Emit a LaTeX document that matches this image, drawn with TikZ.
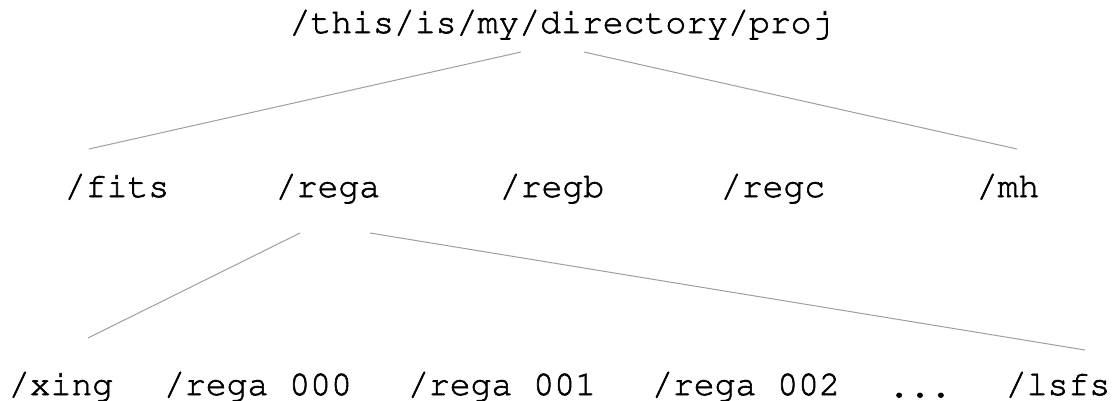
\documentclass[tikz,border=0pt]{standalone}
\usepackage[T1]{fontenc}
\usetikzlibrary{calc}
\newcommand\heavytxt[1]{\special{pdf:literal 2 Tr 0.6 w}#1\special{pdf:literal 0 Tr}}
\tikzset{
  dirlabel/.style={anchor=base, inner sep=0pt, font=\fontfamily{pcr}\fontseries{m}\fontsize{34.8}{40}\selectfont, text=black},
  branch/.style={draw=black!38, line width=1pt}
}
\begin{document}
\begin{tikzpicture}[x=1pt, y=-1pt]
\useasboundingbox (0,0) rectangle (1112,400);
\node[dirlabel] (top) at (561,33) {\heavytxt{/this/is/my/directory/proj}};
\node[dirlabel] (fits) at (117,197) {\heavytxt{/fits}};
\node[dirlabel] (rega) at (328,197) {\heavytxt{/rega}};
\node[dirlabel] (regb) at (552,197) {\heavytxt{/regb}};
\node[dirlabel] (regc) at (773,197) {\heavytxt{/regc}};
\node[dirlabel] (mh) at (1008,197) {\heavytxt{/mh}};
\node[dirlabel] (xing) at (61,395) {\heavytxt{/xing}};
\node[dirlabel] (r000) at (258,395) {\heavytxt{/rega 000}};
\node[dirlabel] (r001) at (502,395) {\heavytxt{/rega 001}};
\node[dirlabel] (r002) at (746,395) {\heavytxt{/rega 002}};
\node[dirlabel] (dots) at (920,397) {\heavytxt{...}};
\node[dirlabel] (lsfs) at (1058,395) {\heavytxt{/lsfs}};
\draw[branch] ($(top.base)+(-40,19)$) -- ($(fits.base)+(-28,-48)$);
\draw[branch] ($(top.base)+(23,19)$) -- ($(mh.base)+(9,-48)$);
\draw[branch] ($(rega.base)+(-28,36)$) -- ($(xing.base)+(27,-57)$);
\draw[branch] ($(rega.base)+(42,36)$) -- ($(lsfs.base)+(27,-45)$);
\end{tikzpicture}
\end{document}
